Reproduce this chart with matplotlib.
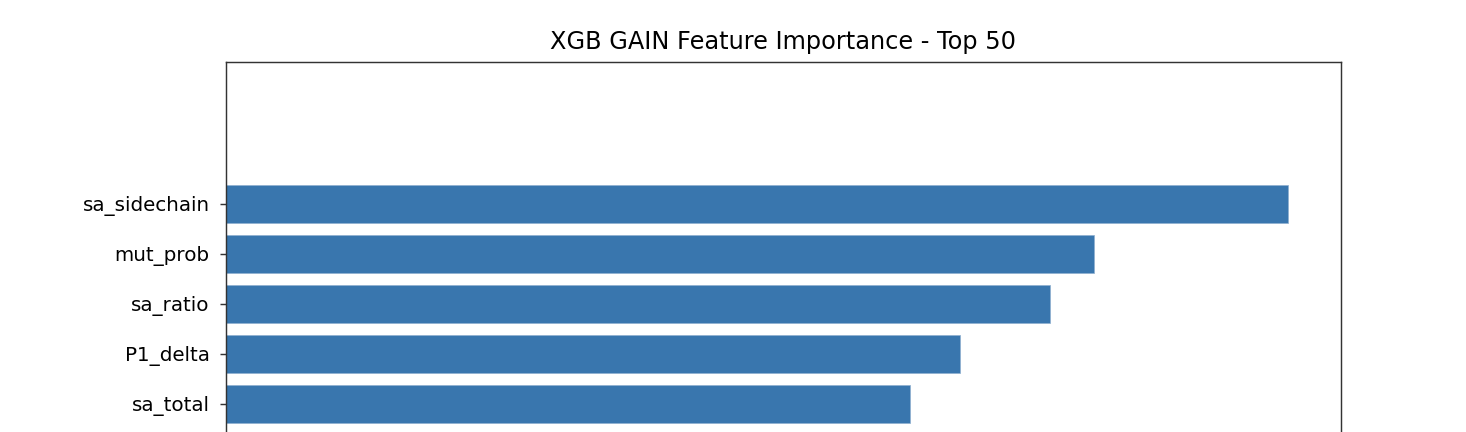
import matplotlib.pyplot as plt
import numpy as np

# top features by XGB gain (only the top of the chart is visible)
features = ['sa_sidechain', 'mut_prob', 'sa_ratio', 'P1_delta', 'sa_total']
gain = [10.63, 8.69, 8.25, 7.35, 6.85]

DPI = 130
fig = plt.figure(figsize=(1466 / DPI, 432 / DPI), dpi=DPI)

# axes runs off the bottom of the picture, like a crop of a tall plot
left, right, top = 226 / 1466, 1341 / 1466, 1 - 62 / 432
bottom = 1 - 454 / 432
ax = fig.add_axes([left, bottom, right - left, top - bottom])

y = np.arange(len(features))[::-1]
ax.barh(y, gain, height=0.76, color='#3976ae', edgecolor='#8fb0d0', linewidth=0.4)
ax.set_yticks(y)
ax.set_yticklabels(features, fontsize=11)
ax.tick_params(axis='y', pad=5.5, color='#333333')
ax.tick_params(labelbottom=False)  # x labels sit below the visible area
ax.set_ylim(-1, y.max() + 2.84)
ax.set_xlim(0, max(gain) * 1.05)
ax.set_title('XGB GAIN Feature Importance - Top 50', fontsize=13.3, pad=7)
for s in ax.spines.values():
    s.set_color('#333333')

fig.savefig('out.png', dpi=DPI)
